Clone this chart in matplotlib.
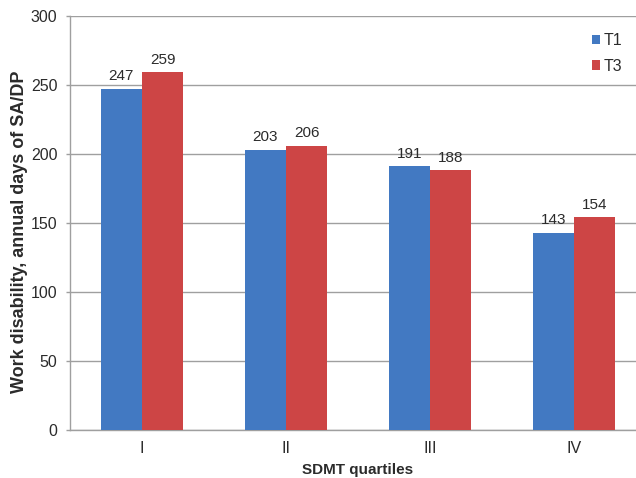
import matplotlib
matplotlib.use("Agg")
import matplotlib.pyplot as plt
import numpy as np

plt.rcParams['font.family'] = ['Liberation Sans', 'DejaVu Sans']

categories = ["I", "II", "III", "IV"]
t1 = [247, 203, 191, 143]
t3 = [259, 206, 188, 154]
series_names = ["T1", "T3"]
yticks = [0, 50, 100, 150, 200, 250, 300]

blue = "#4279C2"
red = "#CD4545"
txt = "#2b2b2b"
grid = "#9f9f9f"

fig = plt.figure(figsize=(6.36, 4.78), dpi=100)
ax = fig.add_axes([70/636, 48/478, 576/636, 414.3/478])

x = np.arange(len(categories))
w = 0.288
b1 = ax.bar(x - w/2, t1, w, color=blue, label=series_names[0], zorder=3)
b2 = ax.bar(x + w/2, t3, w, color=red, label=series_names[1], zorder=3)

for bars, vals in ((b1, t1), (b2, t3)):
    for r, v in zip(bars, vals):
        ax.annotate(str(v), (r.get_x() + r.get_width()/2, v), xytext=(0, 4),
                    textcoords="offset points", ha="center", va="bottom",
                    fontsize=11, color=txt)

ax.set_xlim(-0.5, 3.5)
ax.set_ylim(0, 300)
ax.set_yticks(yticks)
ax.yaxis.grid(True, color=grid, linewidth=1, zorder=0)
ax.set_axisbelow(True)
ax.set_xticks(x)
ax.set_xticklabels(categories)
ax.tick_params(axis="x", length=0, pad=8, labelsize=11.5, labelcolor=txt)
ax.tick_params(axis="y", length=3, width=1, color=grid, pad=6, labelsize=11.5, labelcolor=txt)
for s in ("top", "right"):
    ax.spines[s].set_visible(False)
for s in ("left", "bottom"):
    ax.spines[s].set_color(grid)
    ax.spines[s].set_linewidth(1)

ax.set_xlabel("SDMT quartiles", fontsize=11, fontweight="bold", color=txt, labelpad=5)
ax.set_ylabel("Work disability, annual days of SA/DP", fontsize=13, fontweight="bold",
              color=txt)
ax.yaxis.set_label_coords(-0.073, 0.478)

leg = ax.legend(loc="upper left", bbox_to_anchor=(0.895, 0.973), frameon=False,
                fontsize=11.5, handlelength=0.5, handleheight=0.5, handletextpad=0.25,
                labelspacing=0.65, borderaxespad=0)
for t in leg.get_texts():
    t.set_color(txt)

fig.savefig("out.png", dpi=100)
